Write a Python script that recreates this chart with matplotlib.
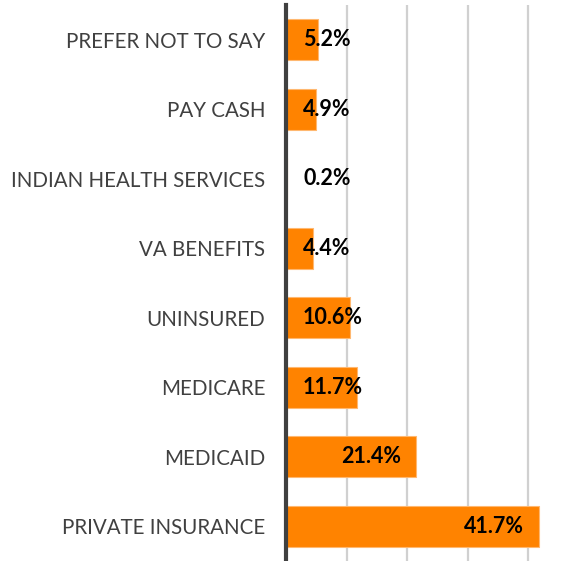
import matplotlib.pyplot as plt

categories = ['PRIVATE INSURANCE', 'MEDICAID', 'MEDICARE', 'UNINSURED',
              'VA BENEFITS', 'INDIAN HEALTH SERVICES', 'PAY CASH', 'PREFER NOT TO SAY']
values = [41.7, 21.4, 11.7, 10.6, 4.4, 0.2, 4.9, 5.2]

ORANGE = '#FF8300'
DPI = 100
fig = plt.figure(figsize=(5.83, 5.61), dpi=DPI)
ax = fig.add_axes([286/583, 0.0, (558.7-286)/583, (561-5)/561])

y = range(len(categories))
ax.barh(y, values, height=0.59, color=ORANGE, edgecolor='#FFB870', linewidth=0.8, zorder=3)
ax.set_xlim(0, 45)
ax.set_ylim(-0.5, len(categories) - 0.5)
ax.set_xticks([10, 20, 30, 40])
ax.xaxis.grid(True, color='#D0D0D0', linewidth=1.6, zorder=0)
ax.tick_params(axis='x', length=0, labelbottom=False)
ax.tick_params(axis='y', length=0, pad=15)
ax.set_yticks(list(y))
ax.set_yticklabels(categories, fontsize=14.8, color='#404040', family=['Lato', 'DejaVu Sans'])
for s in ['top', 'right', 'bottom']:
    ax.spines[s].set_visible(False)
ax.spines['left'].set_color('#404040')
ax.spines['left'].set_linewidth(3)
ax.spines['left'].set_zorder(4)

# data labels: right-aligned inside bar end, but never closer than ~17px to the axis
fig.canvas.draw()
r = fig.canvas.get_renderer()
px_per_unit = ax.bbox.width / 45
for yi, v in zip(y, values):
    txt = ax.text(0, yi, f'{v:.1f}%', fontsize=15.5, fontweight='bold', color='black',
                  family=['Lato', 'DejaVu Sans'], va='center', ha='left', zorder=5)
    w = txt.get_window_extent(r).width
    end_px = v * px_per_unit - 15
    start_px = max(17, end_px - w)
    txt.set_x(start_px / px_per_unit)

fig.savefig('out.png', dpi=DPI)
